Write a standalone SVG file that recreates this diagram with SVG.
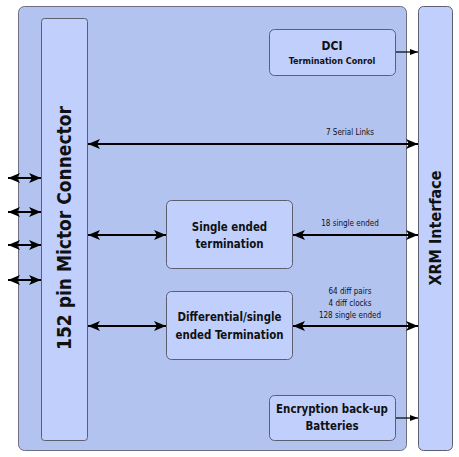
<svg xmlns="http://www.w3.org/2000/svg" width="459" height="457" viewBox="0 0 459 457">
<defs>
<style>
.outer{fill:#b3c3ef;stroke:#6e6e80;stroke-width:1}
.box{fill:#c0cffc;stroke:#5e5e70;stroke-width:1}
.ln{stroke:#000;stroke-width:2;fill:none}
.thin{stroke:#000;stroke-width:1.2;fill:none}
text{font-family:"DejaVu Sans Condensed","DejaVu Sans",sans-serif;font-stretch:condensed;fill:#111;text-anchor:middle}
.b{font-weight:bold;font-size:11.4px}
.s{font-size:8px}
</style>
<marker id="ah" viewBox="0 0 12 10" refX="12" refY="5" markerWidth="12" markerHeight="10" markerUnits="userSpaceOnUse" orient="auto-start-reverse">
<path d="M0,0 L12,5 L0,10 L3,5 Z" fill="#000"/>
</marker>
<marker id="sh" viewBox="0 0 8 6" refX="8" refY="3" markerWidth="8" markerHeight="6" markerUnits="userSpaceOnUse" orient="auto">
<path d="M0,0 L8,3 L0,6 Z" fill="#000"/>
</marker>
</defs>
<g id="board"><rect class="outer" x="18.5" y="6.5" width="388" height="444" rx="6"/></g>
<g id="xrm"><rect class="box" x="418.5" y="6.5" width="34" height="444" rx="5"/>
<text class="b" style="font-size:16px" transform="translate(441,228) rotate(-90)">XRM Interface</text></g>
<g id="mictor"><rect class="box" x="41.5" y="18.5" width="46" height="422" rx="3"/>
<text class="b" style="font-size:19px" transform="translate(71,228) rotate(-90)">152 pin Mictor Connector</text></g>
<g id="dci"><rect class="box" x="269.5" y="29.5" width="126" height="46" rx="5"/>
<text class="b" style="font-size:12px" x="332" y="50">DCI</text>
<text class="b" style="font-size:9px" x="332" y="64">Termination Conrol</text></g>
<g id="single"><rect class="box" x="166.5" y="200.5" width="126" height="68" rx="5"/>
<text class="b" x="229.5" y="231">Single ended</text>
<text class="b" x="229.5" y="248">termination</text></g>
<g id="diff"><rect class="box" x="166.5" y="291.5" width="126" height="68" rx="5"/>
<text class="b" x="229.5" y="321">Differential/single</text>
<text class="b" x="229.5" y="339">ended Termination</text></g>
<g id="enc"><rect class="box" x="269.5" y="395.5" width="126" height="45" rx="5"/>
<text class="b" x="332" y="413">Encryption back-up</text>
<text class="b" x="332" y="430">Batteries</text></g>
<g id="connectors">
<line class="ln" x1="88" y1="144" x2="418" y2="144" marker-start="url(#ah)" marker-end="url(#ah)"/>
<line class="ln" x1="88" y1="235" x2="166" y2="235" marker-start="url(#ah)" marker-end="url(#ah)"/>
<line class="ln" x1="293" y1="235" x2="418" y2="235" marker-start="url(#ah)" marker-end="url(#ah)"/>
<line class="ln" x1="88" y1="326" x2="166" y2="326" marker-start="url(#ah)" marker-end="url(#ah)"/>
<line class="ln" x1="293" y1="326" x2="418" y2="326" marker-start="url(#ah)" marker-end="url(#ah)"/>
<line class="thin" x1="396" y1="52" x2="418" y2="52" marker-end="url(#sh)"/>
<line class="thin" x1="396" y1="418" x2="418" y2="418" marker-end="url(#sh)"/>
<line class="ln" x1="8" y1="178" x2="41" y2="178" marker-start="url(#ah)" marker-end="url(#ah)"/>
<line class="ln" x1="8" y1="212" x2="41" y2="212" marker-start="url(#ah)" marker-end="url(#ah)"/>
<line class="ln" x1="8" y1="245" x2="41" y2="245" marker-start="url(#ah)" marker-end="url(#ah)"/>
<line class="ln" x1="8" y1="280" x2="41" y2="280" marker-start="url(#ah)" marker-end="url(#ah)"/>
<text class="s" x="350" y="135">7 Serial Links</text>
<text class="s" x="350" y="226">18 single ended</text>
<text class="s" x="350" y="294">64 diff pairs</text>
<text class="s" x="350" y="306">4 diff clocks</text>
<text class="s" x="350" y="318">128 single ended</text>
</g>
</svg>
